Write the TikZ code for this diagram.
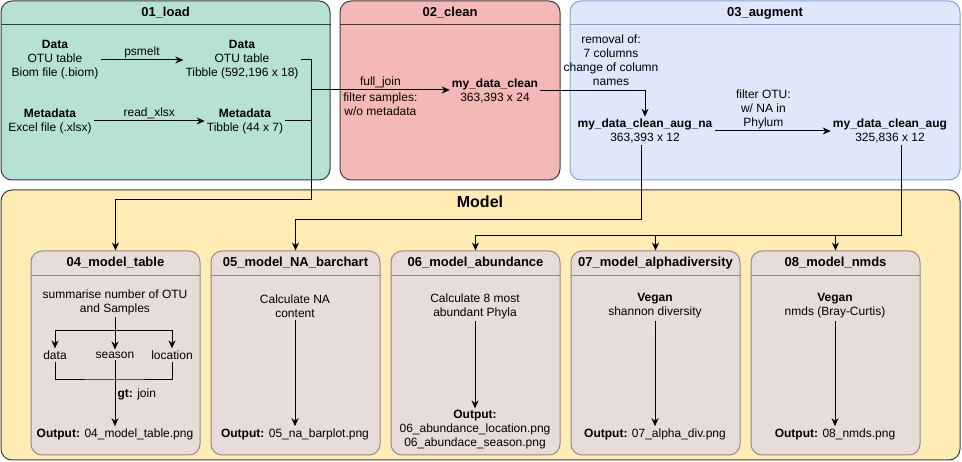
\documentclass[tikz,border=0pt]{standalone}
\usepackage{fontspec}
\setmainfont{Liberation Sans}
\usetikzlibrary{arrows.meta, positioning}
\definecolor{loadfill}{RGB}{182,226,214}
\definecolor{cleanfill}{RGB}{244,185,183}
\definecolor{augfill}{RGB}{222,232,250}
\definecolor{augline}{RGB}{126,162,216}
\definecolor{modelfill}{RGB}{255,236,180}
\definecolor{boxfill}{RGB}{232,220,218}
\definecolor{boxline}{RGB}{140,140,140}
\definecolor{laneline}{RGB}{60,60,60}

\begin{document}
\begin{tikzpicture}[x=1pt, y=-1pt,
  lane/.style={rectangle, rounded corners=11pt, draw=laneline, line width=1pt, inner sep=0pt},
  subbox/.style={rectangle, rounded corners=11pt, draw=boxline, fill=boxfill, line width=1pt,
                 minimum width=169, minimum height=204, inner sep=0pt},
  head/.style={font=\fontsize{13}{15}\selectfont\bfseries},
  txt/.style={align=center, font=\fontsize{12}{14}\selectfont, inner sep=2pt},
  arrow/.style={-{Stealth[length=8pt, width=7pt]}, line width=1pt},
  link/.style={line width=1pt},
]
  \useasboundingbox (0,0) rectangle (962,462);

  % Lanes
  \node[lane, fill=loadfill, minimum width=329, minimum height=179] (loadlane)  at (165.5,90.5) {};
  \node[lane, fill=cleanfill, minimum width=220, minimum height=179] (cleanlane) at (450,90.5)  {};
  \node[lane, fill=augfill, draw=augline, minimum width=390, minimum height=179] (auglane) at (765,90.5) {};
  \node[lane, fill=modelfill, minimum width=959, minimum height=270] (modellane) at (480.5,325) {};

  \node[head] (loadhead) at (165.5,13) {01\_load};
  \node[head] (cleanhead) at (450,13) {02\_clean};
  \node[head] (aughead) at (765,13) {03\_augment};
  \node[font=\fontsize{16}{18}\selectfont\bfseries] (modelhead) at (480,202) {Model};
  \draw[link, laneline] ([yshift=-24pt]loadlane.north west) -- ([yshift=-24pt]loadlane.north east);
  \draw[link, laneline] ([yshift=-24pt]cleanlane.north west) -- ([yshift=-24pt]cleanlane.north east);
  \draw[link, augline] ([yshift=-24pt]auglane.north west) -- ([yshift=-24pt]auglane.north east);

  % Model boxes
  \node[subbox] (tab)   at (115.5,353) {};
  \node[subbox] (na)    at (295.5,353) {};
  \node[subbox] (abund) at (475.5,353) {};
  \node[subbox] (alpha) at (655.5,353) {};
  \node[subbox] (nmds)  at (835.5,353) {};
  \node[head] (tabhead)   at (115.5,263) {04\_model\_table};
  \node[head] (nahead)    at (295.5,263) {05\_model\_NA\_barchart};
  \node[head] (abundhead) at (475.5,263) {06\_model\_abundance};
  \node[head] (alphahead) at (655.5,263) {07\_model\_alphadiversity};
  \node[head] (nmdshead)  at (835.5,263) {08\_model\_nmds};
  \draw[link, boxline] ([yshift=-25pt]tab.north west) -- ([yshift=-25pt]tab.north east);
  \draw[link, boxline] ([yshift=-25pt]na.north west) -- ([yshift=-25pt]na.north east);
  \draw[link, boxline] ([yshift=-25pt]abund.north west) -- ([yshift=-25pt]abund.north east);
  \draw[link, boxline] ([yshift=-25pt]alpha.north west) -- ([yshift=-25pt]alpha.north east);
  \draw[link, boxline] ([yshift=-25pt]nmds.north west) -- ([yshift=-25pt]nmds.north east);

  % Load
  \node[txt] (rawdata) at (55,60)   {\textbf{Data}\\OTU table\\Biom file (.biom)};
  \node[txt] (tibdata) at (242,60)  {\textbf{Data}\\OTU table\\Tibble (592,196 x 18)};
  \node[txt] (rawmeta) at (50,121)  {\textbf{Metadata}\\Excel file (.xlsx)};
  \node[txt] (tibmeta) at (245,121) {\textbf{Metadata}\\Tibble (44 x 7)};
  \coordinate (bus) at (311,90);

  % Clean
  \node[txt] (dataclean) at (495,91) {\textbf{my\_data\_clean}\\363,393 x 24};

  % Augment
  \node[txt] (removal) at (611,60)  {removal of:\\7 columns\\change of column\\names};
  \node[txt] (augna)   at (645,131) {\textbf{my\_data\_clean\_aug\_na}\\363,393 x 12};
  \node[txt] (augfull) at (890,131) {\textbf{my\_data\_clean\_aug}\\325,836 x 12};

  % Model contents
  \node[txt] (tabtext)  at (115,302) {summarise number of OTU\\and Samples};
  \coordinate (split) at (115,331);
  \node[txt] (data)     at (55,355)  {data};
  \node[txt] (season)   at (115,355) {season};
  \node[txt] (location) at (172,355) {location};
  \coordinate (join) at (115,380);
  \node[txt] (tabout)   at (115,434) {\textbf{Output:} 04\_model\_table.png};
  \node[txt] (natext)   at (295,306) {Calculate NA\\content};
  \node[txt] (naout)    at (295,434) {\textbf{Output:} 05\_na\_barplot.png};
  \node[txt] (abtext)   at (475,306) {Calculate 8 most\\abundant Phyla};
  \node[txt] (about)    at (475,430) {\textbf{Output:}\\06\_abundance\_location.png\\06\_abundace\_season.png};
  \node[txt] (alphatext) at (655,306) {\textbf{Vegan}\\shannon diversity};
  \node[txt] (alphaout)  at (655,434) {\textbf{Output:} 07\_alpha\_div.png};
  \node[txt] (nmdstext)  at (835,306) {\textbf{Vegan}\\nmds (Bray-Curtis)};
  \node[txt] (nmdsout)   at (835,434) {\textbf{Output:} 08\_nmds.png};

  % Arrows
  \draw[arrow] (rawdata) -- node[txt, above] {psmelt} (tibdata);
  \draw[arrow] (rawmeta) -- node[txt, above] {read\_xlsx} (tibmeta);
  \draw[link]  (tibdata.east) -| (bus);
  \draw[link]  (tibmeta.east) -| (bus);
  \draw[arrow] (bus) -- node[txt, above] {full\_join}
               node[txt, below] {filter samples:\\w/o metadata} (bus -| dataclean.west);
  \draw[arrow] (bus) |- ([yshift=51pt]tab.north) -- (tab.north);
  \draw[arrow] (dataclean.east) -| (augna.north);
  \draw[arrow] (augna) -- node[txt, pos=0.42, above] {filter OTU:\\w/ NA in\\Phylum} (augfull);
  \draw[arrow] ([xshift=-4pt]augna.south) |- ([yshift=31pt]na.north) -- (na.north);
  \draw[link]  ([xshift=11pt]augfull.south) |- ([yshift=15pt]abund.north);
  \draw[arrow] ([yshift=15pt]abund.north) -- (abund.north);
  \draw[arrow] ([yshift=15pt]alpha.north) -- (alpha.north);
  \draw[arrow] ([yshift=15pt]nmds.north) -- (nmds.north);

  \draw[link]  (tabtext.south) -- (split);
  \draw[arrow] (split) -| (data.north);
  \draw[arrow] (split) -- (season.north);
  \draw[arrow] (split) -| (location.north);
  \draw[link]  (data.south) |- (join) -| (location.south);
  \draw[arrow] (season.south) -- node[txt, right, pos=0.52] {\textbf{gt:} join} (tabout.north);
  \draw[arrow] (natext) -- (naout);
  \draw[arrow] (abtext) -- (about);
  \draw[arrow] (alphatext) -- (alphaout);
  \draw[arrow] (nmdstext) -- (nmdsout);
\end{tikzpicture}
\end{document}
